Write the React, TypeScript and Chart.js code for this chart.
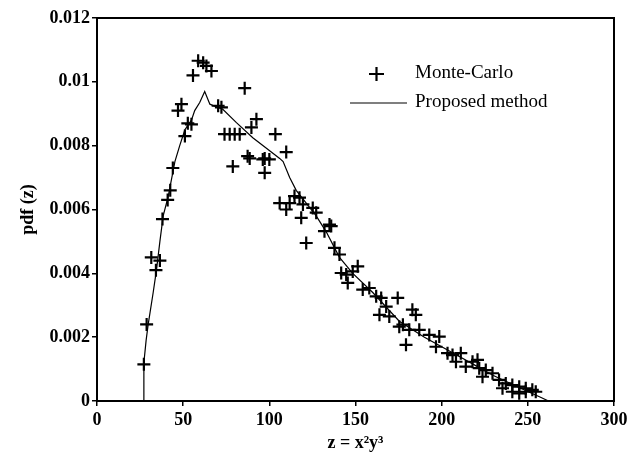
import React, { useEffect, useRef } from "react";
import { Chart, registerables } from "chart.js";

Chart.register(...registerables);

const mcX = [27.2, 28.8, 31.5, 34.2, 36.5, 38, 41, 42.5, 44, 47, 49, 51, 52.7, 54.8, 55.7, 58.7, 61.6, 63.5, 66.4, 70.3, 72.2, 74, 77, 79.9, 82.8, 78.8, 85.7, 87.4, 88.6, 89.6, 92.5, 96.2, 97.3, 100, 97.3, 103.5, 109.8, 106, 109.8, 111.8, 114.6, 117.5, 119.5, 118.5, 121.4, 125.2, 127.2, 132, 134.9, 135.9, 137.8, 140.7, 141.7, 144.6, 145.5, 148.4, 151.3, 154.2, 158, 162, 164.9, 163.9, 167.8, 169.6, 174.5, 175.4, 177.5, 179.3, 181.2, 183, 185, 187, 192.8, 196.7, 198.6, 203.4, 206.3, 208.3, 211.1, 214, 217.9, 220.8, 221.8, 223.7, 225.6, 229.5, 233.3, 235.3, 237.2, 241, 241, 245, 245, 248.8, 248.8, 252.6, 254.6];
const mcY = [0.00115, 0.0024, 0.0045, 0.0041, 0.0044, 0.0057, 0.0063, 0.0066, 0.0073, 0.0091, 0.0093, 0.0083, 0.0087, 0.00867, 0.0102, 0.01066, 0.0106, 0.0105, 0.01034, 0.00925, 0.0092, 0.00836, 0.00836, 0.00836, 0.00836, 0.00735, 0.0098, 0.00767, 0.0076, 0.00857, 0.00883, 0.00757, 0.00715, 0.00757, 0.0076, 0.00836, 0.0078, 0.0062, 0.006, 0.0062, 0.00642, 0.00637, 0.00616, 0.00574, 0.00495, 0.00605, 0.0059, 0.00532, 0.00553, 0.00548, 0.0048, 0.00459, 0.00401, 0.00396, 0.0037, 0.00406, 0.00422, 0.00349, 0.00354, 0.00328, 0.00323, 0.0027, 0.00296, 0.00265, 0.00323, 0.00233, 0.00239, 0.00176, 0.00223, 0.00286, 0.0027, 0.00223, 0.00207, 0.0017, 0.00202, 0.0015, 0.00144, 0.00123, 0.0015, 0.00108, 0.00123, 0.00129, 0.00103, 0.00076, 0.00097, 0.00087, 0.00066, 0.0004, 0.00055, 0.0005, 0.00029, 0.00045, 0.00024, 0.0004, 0.00029, 0.00035, 0.00029];

const pmX = [27.2, 27.2, 28.5, 29.7, 32.6, 34.5, 36.5, 38.4, 41.3, 45.2, 48, 51, 54.8, 56.7, 59.6, 62.5, 65.5, 69, 73, 80.9, 90.4, 100, 106, 108, 111.8, 115.6, 121.4, 127.2, 133, 140.7, 148.4, 160, 175.4, 190, 200, 210, 220, 230, 240, 250, 258, 262, 300];
const pmY = [0, 0.0012, 0.0019, 0.0024, 0.0034, 0.0041, 0.005, 0.0058, 0.0064, 0.0075, 0.008, 0.0085, 0.0088, 0.0091, 0.00935, 0.0097, 0.0093, 0.00922, 0.00914, 0.00872, 0.00825, 0.00785, 0.0076, 0.0075, 0.007, 0.0066, 0.0062, 0.0058, 0.0053, 0.0045, 0.004, 0.0034, 0.0025, 0.002, 0.0017, 0.0014, 0.0011, 0.0008, 0.00055, 0.0003, 0.0001, 0, 0];

const xTicks = [0, 50, 100, 150, 200, 250, 300];
const yTicks = ["0", "0.002", "0.004", "0.006", "0.008", "0.01", "0.012"];
const seriesNames = ["Monte-Carlo", "Proposed method"];
const xTitle = "z = x²y³";
const yTitle = "pdf (z)";

const FONT = "'Liberation Serif', 'Times New Roman', serif";

export default function App() {
  const ref = useRef<HTMLCanvasElement>(null);
  useEffect(() => {
    document.body.style.margin = "0";
    const canvas = ref.current!;
    const framePlugin = {
      id: "frame",
      afterDraw(chart: any) {
        const { ctx, chartArea: a } = chart;
        ctx.save();
        ctx.strokeStyle = "#000";
        ctx.lineWidth = 2;
        ctx.strokeRect(a.left, a.top, a.right - a.left, a.bottom - a.top);
        // legend
        ctx.fillStyle = "#000";
        ctx.font = `19px ${FONT}`;
        ctx.textBaseline = "middle";
        ctx.textAlign = "left";
        const ds = chart.data.datasets;
        ctx.lineWidth = 2.2;
        ctx.beginPath();
        ctx.moveTo(369, 74);
        ctx.lineTo(384, 74);
        ctx.moveTo(376.5, 67);
        ctx.lineTo(376.5, 81);
        ctx.stroke();
        ctx.fillText(ds[0].label, 415, 73);
        ctx.lineWidth = 1.2;
        ctx.beginPath();
        ctx.moveTo(350, 103);
        ctx.lineTo(407, 103);
        ctx.stroke();
        ctx.fillText(ds[1].label, 415, 102);
        ctx.restore();
      },
    };
    const chart = new Chart(canvas, {
      type: "scatter",
      data: {
        datasets: [
          {
            label: seriesNames[0],
            data: mcX.map((x, i) => ({ x, y: mcY[i] })),
            pointStyle: "cross",
            pointRadius: 6.5,
            borderColor: "#000",
            backgroundColor: "#000",
            borderWidth: 2.2,
            showLine: false,
            order: 1,
          },
          {
            label: seriesNames[1],
            data: pmX.map((x, i) => ({ x, y: pmY[i] })),
            showLine: true,
            pointRadius: 0,
            borderColor: "#000",
            borderWidth: 1.2,
            tension: 0,
            order: 0,
          },
        ],
      },
      options: {
        animation: false,
        responsive: false,
        devicePixelRatio: 1,
        layout: { padding: { top: 18, right: 14, left: 0, bottom: 0 } },
        plugins: { legend: { display: false }, tooltip: { enabled: false } },
        scales: {
          x: {
            type: "linear",
            min: 0,
            max: 300,
            afterBuildTicks: (s: any) => {
              s.ticks = xTicks.map((v) => ({ value: v }));
            },
            afterFit: (s: any) => {
              s.height = 55;
              s.paddingLeft = 0;
              s.paddingRight = 0;
            },
            ticks: {
              color: "#000",
              font: { family: FONT, size: 18, weight: "bold" },
              padding: 4,
              maxRotation: 0,
              callback: (v: any) => String(v),
            },
            grid: { drawOnChartArea: false, drawTicks: true, tickLength: 5, color: "#000", lineWidth: 1.5 },
            border: { color: "#000", width: 2 },
            title: { display: true, text: xTitle, color: "#000", font: { family: FONT, size: 18, weight: "bold" }, padding: { top: 0, bottom: 2 } },
          },
          y: {
            type: "linear",
            min: 0,
            max: 0.012,
            afterBuildTicks: (s: any) => {
              s.ticks = yTicks.map((v) => ({ value: parseFloat(v) }));
            },
            afterFit: (s: any) => {
              s.width = 97;
              s.paddingTop = 0;
              s.paddingBottom = 0;
            },
            ticks: {
              color: "#000",
              font: { family: FONT, size: 18, weight: "bold" },
              padding: 2,
              callback: (v: any) => {
                const idx = yTicks.findIndex((t) => Math.abs(parseFloat(t) - v) < 1e-9);
                return idx >= 0 ? yTicks[idx] : "";
              },
            },
            grid: { drawOnChartArea: false, drawTicks: true, tickLength: 5, color: "#000", lineWidth: 1.5 },
            border: { color: "#000", width: 2 },
            title: { display: true, text: yTitle, color: "#000", font: { family: FONT, size: 18, weight: "bold" }, padding: { top: 18, bottom: 0 } },
          },
        },
      },
      plugins: [framePlugin],
    });
    return () => chart.destroy();
  }, []);
  return (
    <div style={{ width: 628, height: 456, background: "#fff" }}>
      <canvas ref={ref} width={628} height={456} style={{ width: 628, height: 456, display: "block" }} />
    </div>
  );
}
